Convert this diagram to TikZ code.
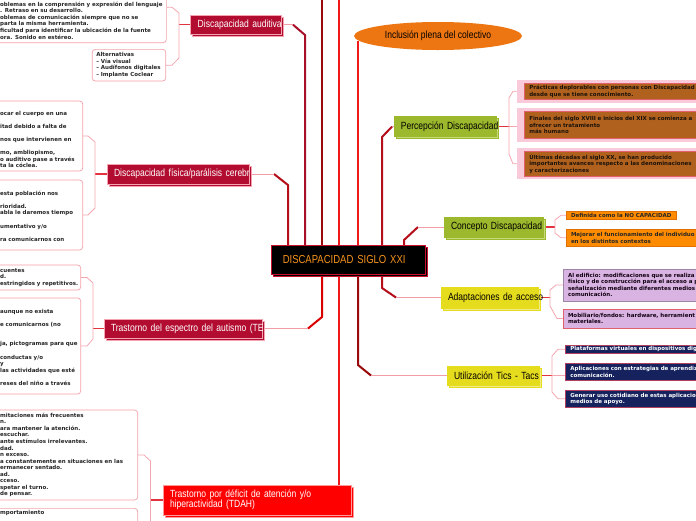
\documentclass[tikz,border=0pt]{standalone}
\usepackage{fontspec}
\setmainfont{Liberation Sans}
\newfontfamily\labelfont{Liberation Sans}[FakeStretch=0.82]
\newfontfamily\notefont{DejaVu Sans}
\usepackage{xcolor}
\usetikzlibrary{calc, backgrounds, shapes.geometric, shadows}

\definecolor{crimson}{HTML}{B20D30}
\definecolor{boxpink}{HTML}{F4A3B0}
\definecolor{hubred}{HTML}{C8102E}
\definecolor{hubtext}{HTML}{F7941D}
\definecolor{inclorange}{HTML}{EE7612}
\definecolor{olive}{HTML}{9CB82C}
\definecolor{oliveshade}{HTML}{C9DA7C}
\definecolor{lemon}{HTML}{E6DC1E}
\definecolor{lemonshade}{HTML}{F0EA88}
\definecolor{brightred}{HTML}{FF0000}
\definecolor{brightpink}{HTML}{FF9A9A}
\definecolor{brownfill}{HTML}{B0611E}
\definecolor{brownedge}{HTML}{E0606C}
\definecolor{halopink}{HTML}{F9CADA}
\definecolor{orangefill}{HTML}{FF8C00}
\definecolor{orangeedge}{HTML}{E07000}
\definecolor{lavfill}{HTML}{D9B4E2}
\definecolor{lavedge}{HTML}{9C88A6}
\definecolor{navyfill}{HTML}{15225E}
\definecolor{navyedge}{HTML}{B0405E}
\definecolor{notepink}{HTML}{F4A0A8}
\definecolor{twigpink}{HTML}{F4A6B0}
\definecolor{stemred}{HTML}{E2343F}
\definecolor{feedpink}{HTML}{F29CA5}
\definecolor{trunkcrimson}{HTML}{A8102A}
\definecolor{trunkmaroon}{HTML}{9A0A0C}
\definecolor{trunkred}{HTML}{F01818}
\definecolor{trunkdark}{HTML}{B50F1C}

\begin{document}
\begin{tikzpicture}[
    x=1pt, y=-1pt,
    lbl/.style={font=\labelfont\fontsize{10.4}{10}\selectfont, align=left, inner ysep=0pt},
    branch/.style={lbl, text width=#1, inner xsep=7pt, line width=0.8pt},
    redbox/.style={branch=#1, fill=crimson, draw=boxpink, text=white,
        drop shadow={shadow xshift=2pt, shadow yshift=-2pt, opacity=1, fill=crimson, draw=boxpink}},
    greenbox/.style={branch=#1, fill=olive, draw=olive, minimum height=20pt,
        drop shadow={shadow xshift=2pt, shadow yshift=-2pt, opacity=1, fill=oliveshade, draw=olive}},
    yellowbox/.style={branch=#1, fill=lemon, draw=lemon,
        drop shadow={shadow xshift=2pt, shadow yshift=-2pt, opacity=1, fill=lemonshade, draw=lemon}},
    notes/.style={draw=notepink, fill=white, rounded corners=3pt, line width=0.7pt, align=left,
        font=\notefont\bfseries\fontsize{5.5}{6.55}\selectfont, text=black!85, inner xsep=3.5pt, inner ysep=2pt},
    tag/.style={anchor=west, align=left, line width=0.6pt, inner xsep=5pt, inner ysep=1pt,
        font=\notefont\bfseries\fontsize{5.5}{6.6}\selectfont},
    brownbox/.style={tag, fill=brownfill, draw=brownedge, text=black!85!brown, text width=230pt},
    orangebox/.style={tag, fill=orangefill, draw=orangeedge, text=black!85, inner xsep=4.7pt},
    lavbox/.style={tag, fill=lavfill, draw=lavedge, text=black!85!violet, text width=230pt, inner xsep=4.7pt},
    navybox/.style={tag, fill=navyfill, draw=navyedge, text=white, text width=230pt},
    trunk/.style={line width=2pt, line join=round},
    feed/.style={line width=1pt, color=feedpink},
    stem/.style={line width=1.2pt, color=stemred},
    twig/.style={line width=0.8pt, color=twigpink},
]
\useasboundingbox (0,0) rectangle (696,520);

% ===== Centre =====
\node[fill=black, draw=hubred, line width=1pt, text=hubtext, align=left,
    font=\labelfont\fontsize{11.6}{12}\selectfont, text width=131.3pt, inner xsep=11pt,
    minimum height=28.3pt,
    drop shadow={shadow xshift=2pt, shadow yshift=-2pt, opacity=1, fill=black, draw=hubred}]
    (hub) at (348.4,259.9) {DISCAPACIDAD SIGLO XXI};

\node[ellipse, fill=inclorange, minimum width=168pt, minimum height=28pt, inner sep=0pt,
    font=\labelfont\fontsize{10.4}{11}\selectfont] (incl) at (438,36) {Inclusión plena del colectivo};

% ===== Left branches =====
\node[redbox=77pt, minimum height=19.3pt] (audit) at (236.2,24.7) {\mbox{Discapacidad auditiva}};
\node[redbox=128pt, minimum height=20pt] (fis) at (178,174) {\mbox{Discapacidad física/parálisis cerebr}};
\node[redbox=144pt, minimum height=19pt] (tea) at (183,328.5) {\mbox{Trastorno del espectro del autismo (TE}};
\node[branch=174pt, fill=brightred, draw=brightpink, text=white, minimum height=30pt,
    drop shadow={shadow xshift=2pt, shadow yshift=-2pt, opacity=1, fill=brightred, draw=brightpink}]
    (tdah) at (257,500) {Trastorno por déficit de atención y/o\\hiperactividad (TDAH)};

% notes of auditiva
\node[notes, anchor=east, text width=162.7pt, minimum height=70.7pt] (audA) at (166.7,7.3) {
    \strut\\[19.65pt]
    \mbox{oblemas en la comprensión y expresión del lenguaje}\\
    . Retraso en su desarrollo.\\
    oblemas de comunicación siempre que no se\\
    parta la misma herramienta.\\
    \mbox{ficultad para identificar la ubicación de la fuente}\\
    ora. Sonido en estéreo.};
\node[notes, inner xsep=4pt, text width=65.4pt, minimum height=31.7pt] (audB) at (129,65.2) {
    Alternativas\\
    \mbox{– Vía visual}\\
    \mbox{– Audífonos digitales}\\
    \mbox{– Implante Coclear}};

% notes of fisica
\node[notes, anchor=east, text width=79pt, minimum height=70pt] (fisC) at (83,136) {
    \strut\\
    \mbox{ocar el cuerpo en una}\\[6.55pt]
    \mbox{itad debido a falta de}\\[6.55pt]
    \mbox{nos que intervienen en}\\[6.55pt]
    \mbox{mo, ambliopismo,}\\
    \mbox{o auditivo pase a través}\\
    ta la cóclea.};
\node[notes, anchor=east, text width=79pt, minimum height=70pt] (fisD) at (83,215) {
    \mbox{}\\
    \mbox{esta población nos}\\[6.55pt]
    rioridad.\\
    \mbox{abla le daremos tiempo}\\[6.55pt]
    \mbox{umentativo y/o}\\[6.55pt]
    \mbox{ra comunicarnos con}};

% notes of autismo
\node[notes, anchor=east, text width=77pt, minimum height=25pt] (teaE) at (81,277.5) {
    cuentes\\
    d.\\
    \mbox{estringidos y repetitivos.}};
\node[notes, anchor=east, text width=77pt, minimum height=96pt] (teaF) at (81,346) {
    \mbox{}\\
    \mbox{aunque no exista}\\[6.55pt]
    \mbox{e comunicarnos (no}\\[13.1pt]
    \mbox{ja, pictogramas para que}\\[6.55pt]
    \mbox{conductas y/o}\\
    y\\
    \mbox{las actividades que esté}\\[6.55pt]
    \mbox{reses del niño a través}};

% notes of TDAH
\node[notes, anchor=east, text width=134pt, minimum height=90pt] (tdahG) at (138,455) {
    \mbox{mitaciones más frecuentes}\\
    n.\\
    \mbox{ara mantener la atención.}\\
    escuchar.\\
    \mbox{ante estímulos irrelevantes.}\\
    dad.\\
    n exceso.\\
    \mbox{a constantemente en situaciones en las}\\
    \mbox{ermanecer sentado.}\\
    ad.\\
    cceso.\\
    \mbox{spetar el turno.}\\
    de pensar.};
\node[notes, anchor=north east, text width=134pt] (tdahH) at (138,508) {
    mportamiento\\[32.75pt]
    \mbox{}};

% ===== Right branches =====
\node[greenbox=88.7pt] (perc) at (445.3,126.7) {\mbox{Percepción Discapacidad}};
\node[greenbox=85pt] (conc) at (493.5,227) {\mbox{Concepto Discapacidad}};
\node[yellowbox=83pt, minimum height=21pt] (adap) at (489.5,297.5) {\mbox{Adaptaciones de acceso}};
\node[yellowbox=78pt, minimum height=19pt] (tics) at (493,375.5) {\mbox{Utilización Tics - Tacs}};

\node[brownbox, minimum height=16.3pt] (perc1) at (524,91.2) {
    Prácticas deplorables con personas con Discapacidad\\
    desde que se tiene conocimiento.};
\node[brownbox, minimum height=26.6pt] (perc2) at (524,125) {
    Finales del siglo XVIII e inicios del XIX se comienza a\\
    ofrecer un tratamiento\\
    más humano};
\node[brownbox, minimum height=24.3pt] (perc3) at (524,163.8) {
    Últimas décadas el siglo XX, se han producido\\
    importantes avances respecto a las denominaciones\\
    y caracterizaciones};

\node[orangebox, minimum height=7.5pt, inner ysep=0.5pt] (conc1) at (566,215.3) {Definida como la NO CAPACIDAD};
\node[orangebox, text width=230pt, minimum height=17.7pt] (conc2) at (566,237.8) {
    Mejorar el funcionamiento del individuo\\
    en los distintos contextos};

\node[lavbox, minimum height=32pt] (adap1) at (563,285) {
    Al edificio: modificaciones que se realiza e\\
    físico y de construcción para el acceso a p\\
    señalización mediante diferentes medios\\
    comunicación.};
\node[lavbox, draw=brownedge, minimum height=19pt] (adap2) at (563,318.5) {
    Mobiliario/fondos: hardware, herramient\\
    materiales.};

\node[navybox, minimum height=8.3pt, inner ysep=0.3pt] (tics1) at (565,349.2) {Plataformas virtuales en dispositivos dig};
\node[navybox, minimum height=17.4pt] (tics2) at (565,372) {
    Aplicaciones con estrategias de aprendiz\\
    comunicación.};
\node[navybox, minimum height=17.7pt] (tics3) at (565,398.8) {
    Generar uso cotidiano de estas aplicacion\\
    medios de apoyo.};

% ===== Connectors =====
\coordinate (fisT) at (288,185);  \coordinate (fisK) at (274,174);
\coordinate (audT) at (305,35);   \coordinate (audK) at (293,24.7);
\coordinate (topA) at (322,-4);   \coordinate (topB) at (339,-4);
\coordinate (inclK) at (358,41);
\coordinate (percT) at (382,137); \coordinate (percK) at (392,126.7);
\coordinate (concT) at (404,240); \coordinate (concK) at (418,227);
\coordinate (teaT) at (322,317);  \coordinate (teaK) at (308,328.5);
\coordinate (ticsT) at (358,365); \coordinate (ticsK) at (371,375.5);
\coordinate (adapT) at (382,288); \coordinate (adapK) at (396,297.5);

\coordinate (audJ) at (179,24.7);
\coordinate (fisJ) at (95,174);
\coordinate (teaJ) at (93,328.5);
\coordinate (tdahJ) at (150.5,500);
\coordinate (percJ) at (509,126.7);
\coordinate (concJ) at (555,227);
\coordinate (adapJ) at (550,297.5);
\coordinate (ticsJ) at (552,375.5);

\begin{scope}[on background layer]
    \fill[white] (0,0) rectangle (696,520);

    % trunks up
    \draw[trunk, trunkdark] (hub.north -| fisT) -- (fisT) -- (fisK);
    \draw[feed] (fisK) -- (fis.east);
    \draw[trunk, trunkcrimson] (hub.north -| audT) -- (audT) -- (audK);
    \draw[feed] (audK) -- (audit.east);
    \draw[trunk, trunkmaroon] (hub.north -| topA) -- (topA);
    \draw[trunk, trunkred] (hub.north -| topB) -- (topB);
    \draw[trunk, trunkred] (hub.north -| inclK) -- (inclK);
    \draw[trunk, trunkdark] (hub.north -| percT) -- (percT) -- (percK);
    \draw[feed] (percK) -- (perc.west);
    \draw[trunk, trunkdark] (hub.north -| concT) -- (concT) -- (concK);
    \draw[feed] (concK) -- (conc.west);

    % trunks down
    \draw[trunk, red!85!black] (hub.south -| teaT) -- (teaT) -- (teaK);
    \draw[feed] (teaK) -- (tea.east);
    \draw[trunk, trunkred] (hub.south -| topB) -- (tdah.north -| topB);
    \draw[trunk, trunkmaroon] (hub.south -| ticsT) -- (ticsT) -- (ticsK);
    \draw[feed] (ticsK) -- (tics.west);
    \draw[trunk, trunkdark] (hub.south -| adapT) -- (adapT) -- (adapK);
    \draw[feed] (adapK) -- (adap.west);

    % brackets left
    \draw[stem] (audit.west) -- (audJ);
    \draw[twig] (audA.east) -- (172,7.3) -- (179,13) -- (179,58) -- (172,65.2) -- (audB.east);
    \draw[stem] (fis.west) -- (fisJ);
    \draw[twig] (fisC.east) -- (88,136) -- (95,142) -- (95,208) -- (88,215) -- (fisD.east);
    \draw[stem] (tea.west) -- (teaJ);
    \draw[twig] (teaE.east) -- (87,277.5) -- (93,283) -- (93,339) -- (87,346) -- (teaF.east);
    \draw[stem] (tdah.west) -- (tdahJ);
    \draw[twig] (tdahG.east) -- (144,455) -- (150.5,461) -- (150.5,525) -- (tdahH.east);

    % brackets right
    \draw[stem] (perc.east) -- (percJ);
    \draw[twig] (perc1.west) -- (513,91.2) -- (509,98) -- (509,154) -- (513,163.8) -- (perc3.west);
    \draw[twig] (percJ) -- (perc2.west |- percJ);
    \draw[stem] (conc.east) -- (concJ);
    \draw[twig] (conc1.west) -- (561,215.3) -- (555,220) -- (555,233) -- (561,237.8) -- (conc2.west);
    \draw[stem] (adap.east) -- (adapJ);
    \draw[twig] (adap1.west) -- (556,285) -- (550,290) -- (550,306) -- (557,318.5) -- (adap2.west);
    \draw[stem] (tics.east) -- (ticsJ);
    \draw[twig] (tics1.west) -- (558,349.2) -- (552,356) -- (552,392) -- (558,398.8) -- (tics3.west);
    \draw[twig] (ticsJ) -- (tics2.west |- ticsJ);

    % pink halo round the perception notes
    \foreach \n in {perc1, perc2, perc3}
        \fill[halopink] ($(\n.north west)+(-7,-3)$) rectangle ($(\n.south east)+(4,3)$);
\end{scope}

\end{tikzpicture}
\end{document}
